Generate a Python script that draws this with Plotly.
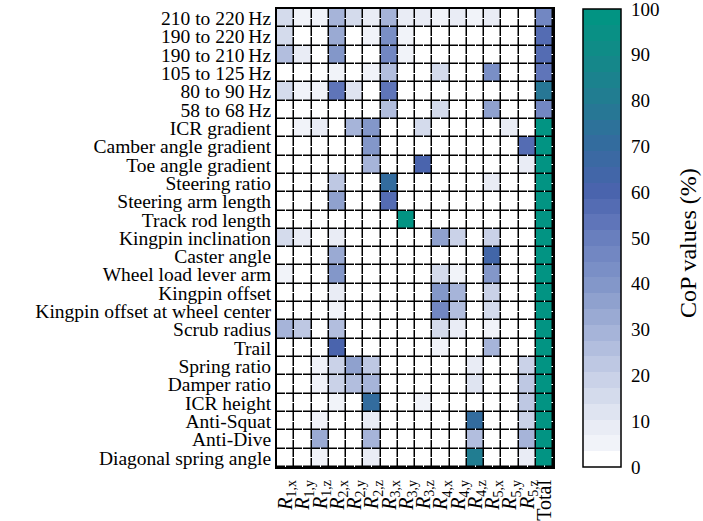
import plotly.graph_objects as go

# Row labels (top to bottom) and column labels
targets = [
    "210 to 220\u2009Hz", "190 to 220\u2009Hz", "190 to 210\u2009Hz", "105 to 125\u2009Hz",
    "80 to 90\u2009Hz", "58 to 68\u2009Hz", "ICR gradient", "Camber angle gradient",
    "Toe angle gradient", "Steering ratio", "Steering arm length", "Track rod length",
    "Kingpin inclination", "Caster angle", "Wheel load lever arm", "Kingpin offset",
    "Kingpin offset at wheel center", "Scrub radius", "Trail", "Spring ratio",
    "Damper ratio", "ICR height", "Anti-Squat", "Anti-Dive", "Diagonal spring angle",
]
params = ["R1,x", "R1,y", "R1,z", "R2,x", "R2,y", "R2,z", "R3,x", "R3,y", "R3,z",
          "R4,x", "R4,y", "R4,z", "R5,x", "R5,y", "R5,z", "Total"]
colorbar_title = "CoP values (%)"

# CoP values in percent, one list per row
cop = [
    [15, 6, 4, 28, 14, 8, 28, 8, 10, 5, 7, 4, 8, 2, 2, 46],
    [17, 3, 2, 32, 3, 4, 42, 4, 0, 2, 2, 2, 0, 0, 2, 57],
    [25, 9, 2, 38, 3, 3, 45, 4, 2, 2, 2, 3, 3, 0, 2, 57],
    [0, 0, 3, 4, 2, 5, 26, 0, 2, 17, 3, 0, 42, 0, 2, 53],
    [15, 4, 5, 52, 12, 3, 55, 2, 0, 0, 0, 2, 0, 0, 2, 77],
    [2, 2, 2, 2, 2, 2, 27, 2, 2, 17, 3, 2, 35, 2, 2, 47],
    [0, 5, 10, 3, 30, 38, 0, 2, 17, 0, 0, 3, 0, 10, 2, 100],
    [0, 0, 2, 3, 0, 38, 0, 0, 2, 0, 0, 2, 0, 0, 58, 100],
    [0, 0, 0, 3, 0, 30, 2, 0, 60, 0, 0, 0, 0, 0, 10, 100],
    [0, 0, 0, 22, 0, 0, 70, 0, 2, 0, 0, 0, 8, 0, 0, 100],
    [0, 0, 0, 37, 0, 0, 58, 0, 2, 0, 0, 0, 0, 0, 0, 100],
    [0, 0, 0, 0, 0, 0, 0, 100, 0, 0, 0, 0, 0, 0, 0, 100],
    [15, 8, 0, 10, 0, 0, 0, 0, 0, 35, 18, 0, 20, 0, 0, 100],
    [2, 2, 0, 32, 0, 0, 0, 0, 0, 0, 0, 0, 65, 0, 0, 100],
    [6, 2, 0, 38, 0, 2, 0, 0, 0, 15, 4, 0, 40, 0, 0, 100],
    [3, 2, 0, 8, 2, 0, 0, 0, 0, 40, 30, 0, 18, 0, 0, 100],
    [2, 2, 0, 5, 2, 0, 0, 0, 0, 48, 25, 0, 15, 0, 0, 100],
    [30, 22, 0, 25, 2, 0, 0, 0, 0, 15, 8, 0, 6, 0, 0, 100],
    [2, 0, 0, 62, 2, 2, 0, 0, 0, 4, 0, 0, 30, 0, 0, 100],
    [0, 0, 4, 20, 35, 22, 0, 0, 2, 0, 0, 10, 0, 0, 18, 100],
    [0, 0, 4, 20, 26, 28, 0, 0, 2, 0, 0, 12, 0, 0, 24, 100],
    [0, 0, 3, 4, 0, 70, 0, 0, 4, 0, 0, 0, 0, 0, 22, 100],
    [0, 0, 6, 2, 0, 10, 0, 0, 0, 0, 0, 72, 0, 0, 18, 100],
    [2, 0, 33, 2, 0, 30, 0, 0, 0, 0, 2, 25, 0, 0, 30, 100],
    [0, 0, 4, 0, 0, 10, 0, 0, 0, 2, 0, 80, 0, 0, 8, 100],
]

# Tick text: italic R with subscript index
xtext = []
for p in params:
    if p == "Total":
        xtext.append("Total")
    else:
        xtext.append("<i>R</i><sub>" + p[1:] + "</sub>")

# Base colour ramp: white -> blue -> teal, then banded into discrete steps
base = [
    (0.0, (255, 255, 255)), (0.1, (230, 234, 244)), (0.2, (200, 208, 231)),
    (0.3, (165, 179, 216)), (0.4, (131, 151, 201)), (0.5, (106, 128, 191)),
    (0.6, (76, 100, 174)), (0.7, (53, 106, 159)), (0.8, (35, 123, 147)),
    (0.9, (18, 138, 136)), (1.0, (0, 150, 130)),
]


def ramp(t):
    for (t0, c0), (t1, c1) in zip(base[:-1], base[1:]):
        if t <= t1:
            f = (t - t0) / (t1 - t0)
            return tuple(round(a + (b - a) * f) for a, b in zip(c0, c1))
    return base[-1][1]


nbands = 29
colorscale = []
for i in range(nbands):
    lo, hi = i / nbands, (i + 1) / nbands
    c = "rgb(%d,%d,%d)" % ramp(lo * 0.4 + hi * 0.6 if i else 0.0)
    colorscale.append([lo, c])
    colorscale.append([hi, c])

font_family = "Liberation Serif, DejaVu Serif, serif"

fig = go.Figure(
    go.Heatmap(
        z=cop,
        x=params,
        y=targets,
        zmin=0,
        zmax=100,
        colorscale=colorscale,
        xgap=1.5,
        ygap=1.5,
        colorbar=dict(
            x=1.109,
            xanchor="left",
            xpad=0,
            ypad=0,
            y=0.5,
            len=1,
            thickness=38,
            outlinecolor="black",
            outlinewidth=1.5,
            tickvals=list(range(0, 101, 10)),
            ticks="outside",
            ticklen=6,
            tickcolor="rgba(0,0,0,0)",
            ticklabeloverflow="allow",
            tickfont=dict(family=font_family, size=19, color="black"),
        ),
        hovertemplate="%{y}<br>%{x}: %{z}%<extra></extra>",
    )
)

# Colorbar caption placed as a rotated annotation to the right of the tick labels
fig.add_annotation(
    text=colorbar_title,
    xref="paper", yref="paper",
    x=1.489, y=0.489,
    xanchor="center", yanchor="middle",
    textangle=-90,
    showarrow=False,
    font=dict(family=font_family, size=24, color="black"),
)

fig.update_xaxes(
    tickmode="array",
    tickvals=params,
    ticktext=xtext,
    tickangle=-90,
    tickfont=dict(family=font_family, size=20, color="black"),
    showline=True, linecolor="black", linewidth=2, mirror=True,
    ticks="outside", ticklen=3, tickcolor="rgba(0,0,0,0)",
    automargin=False,
)
fig.update_yaxes(
    tickmode="array",
    tickvals=targets,
    ticktext=targets,
    autorange="reversed",
    tickfont=dict(family=font_family, size=19.5, color="black"),
    showline=True, linecolor="black", linewidth=2, mirror=True,
    ticks="",
    automargin=False,
)

fig.update_layout(
    width=703,
    height=521,
    margin=dict(l=277, r=150, t=9, b=54),
    plot_bgcolor="black",
    paper_bgcolor="white",
    font=dict(family=font_family, color="black"),
)

fig.write_html("out.html")
